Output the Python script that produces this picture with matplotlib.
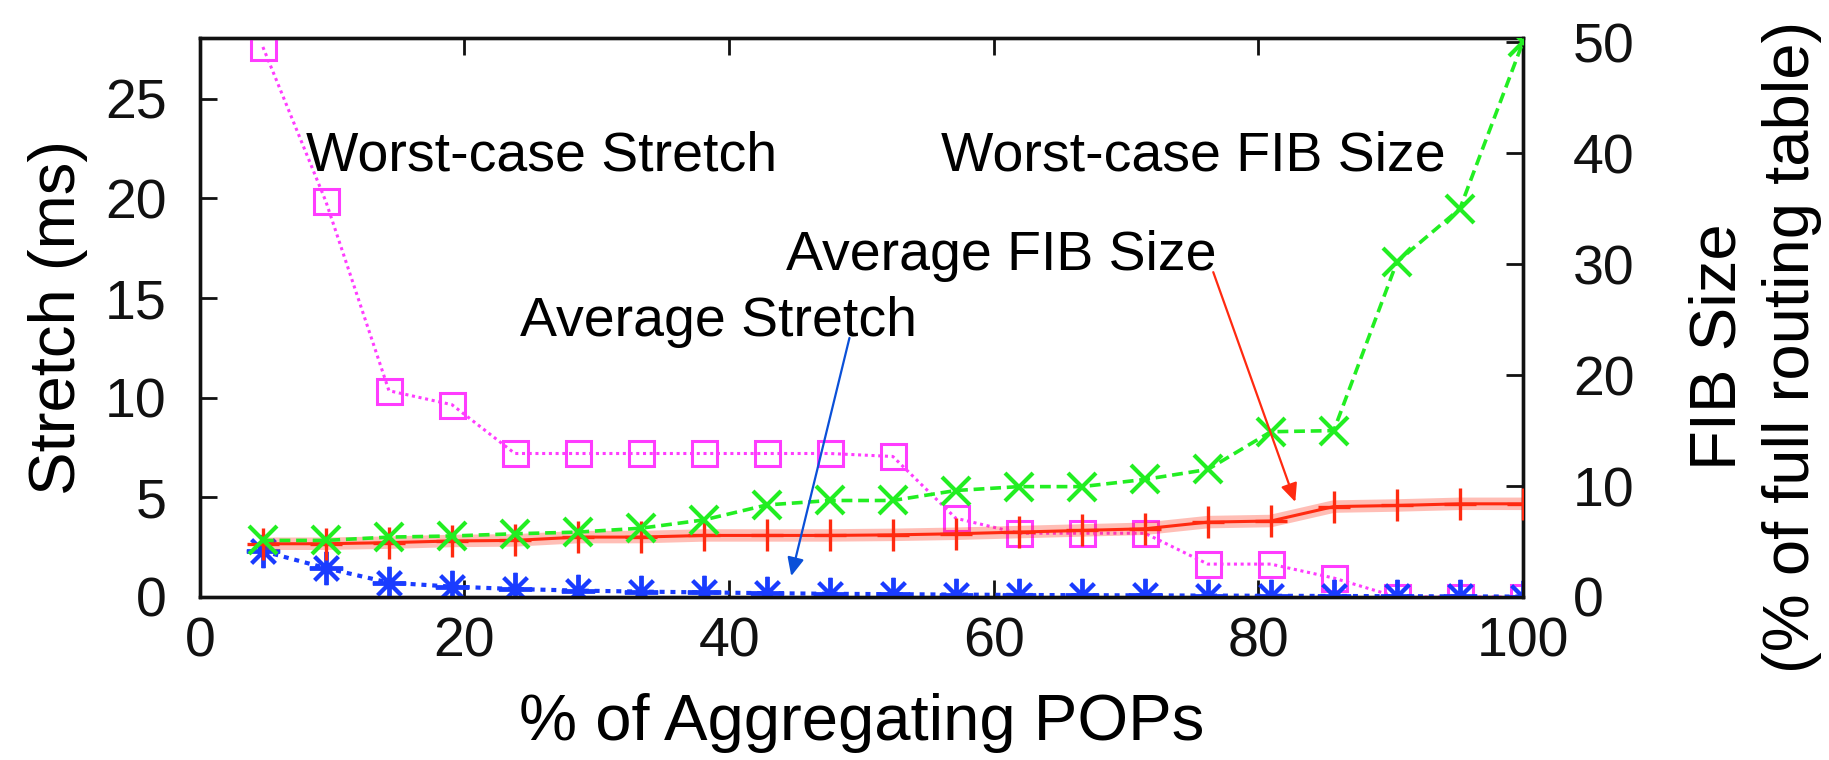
import matplotlib
matplotlib.use("Agg")
import matplotlib.pyplot as plt

plt.rcParams["font.family"] = ["Liberation Sans", "DejaVu Sans"]

# % of aggregating POPs
pops_pct = [4.76, 9.52, 14.29, 19.05, 23.81, 28.57, 33.33, 38.10, 42.86, 47.62,
            52.38, 57.14, 61.90, 66.67, 71.43, 76.19, 80.95, 85.71, 90.48, 95.24, 100.0]

# Stretch (ms), left axis
worst_stretch = [27.6, 19.85, 10.35, 9.65, 7.2, 7.2, 7.2, 7.2, 7.2, 7.2,
                 7.05, 3.95, 3.2, 3.2, 3.2, 1.65, 1.65, 0.95, 0.0, 0.0, 0.0]
avg_stretch = [2.3, 1.45, 0.72, 0.52, 0.4, 0.32, 0.27, 0.23, 0.19, 0.16,
               0.14, 0.12, 0.1, 0.09, 0.08, 0.07, 0.06, 0.05, 0.04, 0.03, 0.02]

# FIB size (% of full routing table), right axis
worst_fib = [5.1, 5.1, 5.4, 5.5, 5.7, 5.85, 6.2, 6.95, 8.3, 8.7,
             8.7, 9.6, 9.95, 9.95, 10.6, 11.5, 14.9, 15.0, 30.2, 35.0, 50.0]
avg_fib = [4.8, 4.8, 4.9, 5.05, 5.1, 5.4, 5.4, 5.55, 5.55, 5.55,
           5.6, 5.7, 5.85, 6.0, 6.15, 6.75, 6.85, 8.15, 8.25, 8.4, 8.4]

x_ticks = [0, 20, 40, 60, 80, 100]
left_ticks = [0, 5, 10, 15, 20, 25]
right_ticks = [0, 10, 20, 30, 40, 50]

MAGENTA = "#ff3cff"
GREEN = "#22ee22"
RED = "#ff2a10"
BLUE = "#1a3cff"

TICK_FS = 40
LABEL_FS = 47
NOTE_FS = 40

LEFT_MAX = 28.05
RIGHT_MAX = 50.4

fig = plt.figure(figsize=(18.29, 7.60), dpi=100)
ax = fig.add_axes([0.1093, 0.2145, 0.7233, 0.7355])
ax2 = ax.twinx()

# asterisk marker: plus and cross combined
asterisk = (8, 2, 0)

ax.plot(pops_pct, worst_stretch, color=MAGENTA, ls=(0, (1, 1.2)), lw=2.2,
        marker="s", ms=18, mfc="none", mec=MAGENTA, mew=2.2, zorder=4)
ax.plot(pops_pct, avg_stretch, color=BLUE, ls=(0, (1.2, 1.4)), lw=3.0,
        marker=asterisk, ms=24, mec=BLUE, mew=2.8, zorder=5)

ax2.plot(pops_pct, avg_fib, color=RED, lw=9, alpha=0.3, solid_capstyle="butt", zorder=2)
ax2.plot(pops_pct, avg_fib, color=RED, lw=2.2, marker="+", ms=23, mew=2.4, zorder=3)
ax2.plot(pops_pct, worst_fib, color=GREEN, ls=(0, (3, 1.6)), lw=2.6,
         marker="x", ms=20, mew=3.0, zorder=3)

ax.set_xlim(0, 100)
ax.set_ylim(0, LEFT_MAX)
ax2.set_ylim(0, RIGHT_MAX)

ax.set_xticks(x_ticks)
ax.set_yticks(left_ticks)
ax2.set_yticks(right_ticks)

for a in (ax, ax2):
    for s in a.spines.values():
        s.set_linewidth(2.4)
        s.set_color("#111111")
    a.tick_params(direction="in", length=12, width=2.0, labelsize=TICK_FS, colors="#111111")
ax.tick_params(axis="x", top=True, pad=14)
ax.tick_params(axis="y", pad=24)
ax2.tick_params(axis="y", pad=36)

ax.set_xlabel("% of Aggregating POPs", fontsize=LABEL_FS, labelpad=18)
ax.set_ylabel("Stretch (ms)", fontsize=LABEL_FS, labelpad=12)

fig.text(1718 / 1829, 1 - 347 / 760, "FIB Size", rotation=90, fontsize=LABEL_FS,
         ha="center", va="center")
fig.text(1792 / 1829, 1 - 347 / 760, "(% of full routing table)", rotation=90,
         fontsize=LABEL_FS, ha="center", va="center")

ax.text(8.0, 21.4, "Worst-case Stretch", fontsize=NOTE_FS, va="baseline", ha="left")
ax.text(56.0, 21.4, "Worst-case FIB Size", fontsize=NOTE_FS, va="baseline", ha="left")
ax.text(44.3, 16.4, "Average FIB Size", fontsize=NOTE_FS, va="baseline", ha="left")
ax.text(24.2, 13.1, "Average Stretch", fontsize=NOTE_FS, va="baseline", ha="left")

# pointer arrows, given in left-axis units
scale = RIGHT_MAX / LEFT_MAX
ax2.annotate("", xy=(44.7, 1.05 * scale), xytext=(49.1, 13.0 * scale),
             arrowprops=dict(arrowstyle="-|>,head_length=1.1,head_width=0.5",
                             color="#0a50d8", lw=1.6, shrinkA=0, shrinkB=0), zorder=6)
ax2.annotate("", xy=(82.8, 4.77 * scale), xytext=(76.6, 16.3 * scale),
             arrowprops=dict(arrowstyle="-|>,head_length=1.1,head_width=0.5",
                             color=RED, lw=1.6, shrinkA=0, shrinkB=0), zorder=6)

fig.savefig("out.png", dpi=100)
